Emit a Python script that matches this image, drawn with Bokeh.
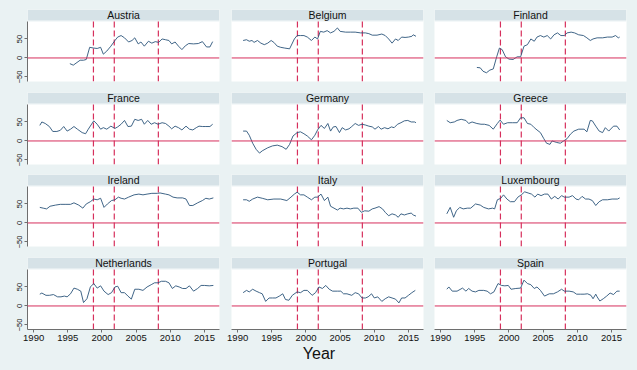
from bokeh.plotting import figure
from bokeh.layouts import column, row
from bokeh.models import FixedTicker, Range1d, Span
from bokeh.embed import file_html
from bokeh.resources import INLINE
from bokeh.core.properties import value

# ---------------- data ----------------
countries = ["Austria", "Belgium", "Finland", "France", "Germany", "Greece",
             "Ireland", "Italy", "Luxembourg", "Netherlands", "Portugal", "Spain"]

austria_year = [1995.3, 1995.8, 1996.8, 1997.3, 1997.7, 1998.2, 1998.8, 1999.3, 1999.8, 2000.2,
                2000.7, 2001.3, 2001.9, 2002.3, 2002.8, 2003.3, 2003.9, 2004.4, 2004.8, 2005.3,
                2005.7, 2006.2, 2006.8, 2007.3, 2007.8, 2008.3, 2008.8, 2009.3, 2009.8, 2010.2,
                2010.7, 2011.2, 2011.7, 2012.2, 2012.7, 2013.4, 2014.1, 2014.7, 2015.3, 2015.8, 2016.2]
austria_val = [-15, -19, -6, -6, -4, 28, 26, 25, 28, 10, 18, 31, 46, 55, 59, 53, 42, 46, 53, 37,
               42, 31, 44, 39, 43, 41, 50, 48, 46, 37, 42, 31, 22, 32, 38, 37, 38, 43, 29, 29, 43]

belgium_year = [1990.8, 1991.3, 1991.7, 1992.1, 1992.4, 1992.9, 1993.4, 1993.9, 1994.4, 1994.9,
                1995.3, 1995.8, 1996.3, 1996.9, 1997.6, 1998.3, 1998.7, 1999.2, 1999.7, 2000.2,
                2000.8, 2001.3, 2001.7, 2002.1, 2002.6, 2003.1, 2003.6, 2004.1, 2004.6, 2005.0,
                2005.8, 2006.5, 2007.2, 2008.0, 2008.7, 2009.2, 2009.7, 2010.4, 2011.1, 2011.6,
                2012.1, 2012.6, 2013.1, 2013.5, 2014.0, 2014.5, 2015.0, 2015.5, 2015.7, 2016.1]
belgium_val = [46, 48, 44, 46, 41, 46, 39, 35, 39, 46, 41, 31, 28, 26, 24, 50, 59, 59, 59, 55,
               46, 55, 50, 70, 68, 72, 66, 70, 79, 70, 68, 68, 68, 66, 66, 64, 60, 60, 63, 59,
               50, 39, 50, 46, 55, 54, 55, 57, 61, 57]

finland_year = [1995.3, 1995.8, 1996.2, 1996.7, 1997.2, 1997.7, 1998.2, 1998.6, 1999.0, 1999.5,
                2000.0, 2000.6, 2001.2, 2001.7, 2002.2, 2002.7, 2003.2, 2003.7, 2004.1, 2004.6,
                2005.1, 2005.6, 2006.1, 2006.6, 2007.1, 2007.6, 2008.1, 2008.5, 2009.1, 2009.6,
                2010.2, 2010.9, 2011.4, 2011.9, 2012.3, 2012.9, 2013.7, 2014.4, 2015.1, 2015.6,
                2016.0, 2016.2]
finland_val = [-25, -26, -35, -39, -32, -29, 3, 26, 22, 3, -3, -4, 3, 3, 31, 35, 50, 44, 55, 59,
               55, 59, 50, 61, 66, 59, 59, 66, 68, 66, 61, 59, 53, 46, 50, 53, 53, 55, 55, 59,
               53, 55]

france_year = [1990.9, 1991.2, 1991.7, 1992.3, 1992.8, 1993.4, 1993.9, 1994.4, 1994.9, 1995.4,
               1995.9, 1996.4, 1997.1, 1997.6, 1998.0, 1998.8, 1999.3, 1999.8, 2000.2, 2000.7,
               2001.3, 2001.9, 2002.3, 2002.8, 2003.3, 2003.8, 2004.3, 2004.8, 2005.3, 2005.8,
               2006.2, 2006.7, 2007.2, 2007.7, 2008.2, 2008.8, 2009.3, 2009.8, 2010.2, 2010.7,
               2011.2, 2011.7, 2012.3, 2012.8, 2013.3, 2013.8, 2014.2, 2014.7, 2015.2, 2015.8, 2016.2]
france_val = [41, 50, 46, 38, 25, 25, 28, 38, 26, 31, 38, 31, 22, 19, 31, 53, 44, 31, 35, 31,
              39, 33, 37, 44, 54, 38, 39, 57, 54, 57, 44, 54, 44, 48, 44, 48, 46, 39, 32, 39,
              35, 29, 39, 31, 29, 35, 39, 38, 38, 38, 44]

germany_year = [1990.8, 1991.3, 1991.7, 1992.2, 1992.7, 1993.2, 1993.6, 1994.4, 1995.1, 1995.8,
                1996.5, 1997.1, 1997.6, 1998.1, 1998.7, 1999.2, 1999.7, 2000.2, 2000.8, 2001.3,
                2001.7, 2002.2, 2002.7, 2003.2, 2003.6, 2004.0, 2004.4, 2004.9, 2005.3, 2005.8,
                2006.3, 2006.7, 2007.2, 2007.7, 2008.2, 2008.7, 2009.2, 2009.7, 2010.1, 2010.6,
                2011.0, 2011.5, 2012.0, 2012.5, 2012.9, 2013.4, 2013.9, 2014.4, 2014.9, 2015.4,
                2015.9, 2016.1]
germany_val = [26, 26, 15, -6, -22, -32, -26, -18, -13, -11, -15, -22, -9, 13, 22, 24, 19, 13, 3, 15,
               29, 41, 33, 46, 26, 37, 38, 22, 35, 29, 32, 38, 46, 41, 44, 42, 39, 37, 31, 38,
               31, 35, 32, 37, 35, 44, 48, 53, 54, 50, 50, 48]

greece_year = [1990.9, 1991.4, 1992.0, 1992.4, 1993.0, 1993.7, 1994.1, 1994.6, 1995.3, 1995.9,
               1996.4, 1997.1, 1997.7, 1998.3, 1998.7, 1999.2, 1999.8, 2000.5, 2001.2, 2001.7,
               2002.2, 2002.7, 2003.2, 2003.7, 2004.1, 2004.6, 2005.1, 2005.5, 2006.0, 2006.3,
               2007.0, 2007.5, 2008.0, 2008.5, 2009.0, 2009.5, 2010.2, 2011.0, 2011.4, 2011.9,
               2012.2, 2012.7, 2013.2, 2013.7, 2014.1, 2014.6, 2015.3, 2015.8, 2016.2]
greece_val = [54, 48, 50, 54, 57, 54, 46, 50, 46, 44, 44, 41, 31, 46, 55, 44, 48, 48, 48, 61,
              61, 46, 44, 35, 29, 22, 6, -6, -9, 0, -4, -6, 0, 6, 18, 26, 31, 31, 24, 54,
              53, 39, 26, 22, 35, 26, 39, 39, 29]

ireland_year = [1990.9, 1991.4, 1991.9, 1992.4, 1993.2, 1993.9, 1994.6, 1995.4, 1995.9, 1996.6,
                1997.2, 1997.7, 1998.3, 1998.8, 1999.3, 1999.8, 2000.3, 2000.8, 2001.4, 2001.9,
                2002.4, 2002.8, 2003.3, 2003.9, 2004.7, 2005.4, 2006.0, 2006.6, 2007.3, 2008.1,
                2008.5, 2009.3, 2009.8, 2010.4, 2011.0, 2011.8, 2012.3, 2012.8, 2013.3, 2014.0,
                2014.7, 2015.2, 2015.7, 2016.3]
ireland_val = [41, 39, 37, 44, 47, 49, 49, 49, 53, 47, 39, 50, 56, 63, 61, 65, 41, 50, 59, 61,
               68, 65, 63, 68, 74, 76, 74, 76, 78, 78, 79, 76, 74, 68, 66, 66, 63, 46, 46, 53,
               59, 65, 63, 66]

italy_year = [1990.8, 1991.3, 1991.7, 1992.2, 1992.9, 1993.6, 1994.4, 1995.3, 1996.3, 1997.2,
              1997.8, 1998.3, 1998.7, 1999.2, 1999.7, 2000.2, 2000.8, 2001.3, 2001.7, 2002.2,
              2002.7, 2003.2, 2003.6, 2004.1, 2004.6, 2005.0, 2005.5, 2006.0, 2006.5, 2007.0,
              2007.6, 2008.1, 2008.6, 2009.2, 2009.7, 2010.1, 2010.7, 2011.2, 2011.6, 2012.1,
              2012.6, 2013.1, 2013.5, 2013.9, 2014.4, 2014.9, 2015.4, 2015.7, 2016.1]
italy_val = [61, 61, 57, 63, 68, 65, 61, 63, 63, 59, 68, 76, 81, 74, 74, 68, 61, 68, 68, 76,
             59, 68, 44, 39, 34, 39, 37, 39, 37, 39, 39, 28, 32, 31, 37, 39, 43, 37, 28, 19,
             24, 21, 15, 24, 21, 24, 26, 21, 18]

luxembourg_year = [1990.9, 1991.4, 1991.9, 1992.3, 1992.8, 1993.3, 1993.9, 1994.4, 1995.1, 1995.8,
                   1996.3, 1997.0, 1997.6, 1997.9, 1998.3, 1998.8, 1999.2, 1999.7, 2000.2, 2000.8,
                   2001.3, 2001.8, 2002.3, 2002.8, 2003.3, 2003.8, 2004.2, 2004.7, 2005.2, 2005.7,
                   2006.2, 2006.7, 2007.2, 2007.7, 2008.1, 2008.8, 2009.3, 2009.8, 2010.2, 2010.7,
                   2011.2, 2011.7, 2012.2, 2012.7, 2013.2, 2013.7, 2014.4, 2015.1, 2015.9, 2016.2]
luxembourg_val = [24, 41, 15, 32, 41, 37, 39, 39, 50, 47, 41, 37, 39, 37, 61, 65, 74, 63, 56, 56,
                  68, 74, 82, 79, 76, 68, 76, 72, 76, 76, 63, 70, 63, 72, 68, 68, 72, 63, 61, 70,
                  63, 63, 59, 46, 56, 61, 61, 63, 63, 66]

netherlands_year = [1990.9, 1991.2, 1991.8, 1992.3, 1992.9, 1993.5, 1994.0, 1994.5, 1994.9, 1995.4,
                    1995.9, 1996.4, 1996.9, 1997.3, 1997.8, 1998.3, 1998.8, 1999.3, 1999.8, 2000.3,
                    2000.9, 2001.4, 2001.9, 2002.3, 2002.8, 2003.3, 2003.8, 2004.3, 2004.8, 2005.4,
                    2006.0, 2006.6, 2007.2, 2007.7, 2008.2, 2008.7, 2009.3, 2009.8, 2010.3, 2010.8,
                    2011.3, 2011.8, 2012.3, 2012.8, 2013.4, 2014.0, 2014.5, 2015.0, 2015.7, 2016.3]
netherlands_val = [31, 34, 28, 28, 30, 24, 24, 26, 24, 32, 47, 44, 39, 9, 19, 50, 59, 47, 53, 39,
                   30, 35, 50, 52, 35, 35, 26, 18, 44, 44, 41, 50, 56, 61, 61, 65, 65, 61, 46, 53,
                   50, 46, 46, 53, 39, 46, 54, 54, 53, 54]

portugal_year = [1990.8, 1991.3, 1991.7, 1992.2, 1992.7, 1993.2, 1993.6, 1994.1, 1994.6, 1995.1,
                 1995.6, 1996.1, 1996.6, 1997.0, 1997.5, 1998.0, 1998.7, 1999.2, 1999.7, 2000.2,
                 2000.9, 2001.4, 2001.9, 2002.4, 2002.9, 2003.4, 2003.9, 2004.6, 2005.1, 2005.5,
                 2006.0, 2006.7, 2007.2, 2007.7, 2008.2, 2008.7, 2009.1, 2009.6, 2010.0, 2010.5,
                 2011.1, 2011.6, 2012.1, 2012.6, 2013.1, 2013.6, 2014.0, 2014.5, 2015.0, 2015.5, 2016.0]
portugal_val = [35, 41, 37, 44, 39, 35, 32, 12, 21, 21, 21, 26, 32, 17, 15, 28, 37, 35, 41, 41,
                28, 35, 50, 46, 54, 44, 39, 39, 39, 32, 32, 28, 35, 32, 21, 21, 24, 32, 21, 24,
                12, 19, 24, 21, 18, 8, 21, 21, 28, 35, 41]

spain_year = [1990.9, 1991.2, 1991.7, 1992.4, 1993.2, 1993.7, 1994.1, 1994.6, 1995.1, 1995.6,
              1996.3, 1996.8, 1997.3, 1997.8, 1998.4, 1998.9, 1999.4, 1999.9, 2000.3, 2001.0,
              2001.7, 2002.2, 2002.7, 2003.2, 2003.7, 2004.1, 2004.6, 2005.2, 2005.9, 2006.5,
              2007.1, 2007.7, 2008.1, 2008.8, 2009.4, 2009.9, 2010.5, 2011.0, 2011.5, 2012.0,
              2012.3, 2012.7, 2012.9, 2013.3, 2013.8, 2014.3, 2014.8, 2015.3, 2015.8, 2016.2]
spain_val = [44, 50, 39, 39, 47, 39, 46, 39, 37, 41, 41, 39, 32, 37, 59, 54, 53, 54, 44, 46,
             47, 68, 59, 56, 46, 50, 41, 26, 32, 32, 37, 44, 39, 39, 37, 31, 31, 31, 32, 28,
             19, 31, 24, 13, 19, 26, 34, 30, 39, 39]

event_years = [1998.75, 2001.8, 2008.25]
x_ticks = [1990, 1995, 2000, 2005, 2010, 2015]
y_ticks = [-50, 0, 50]

series = {
    "Austria": (austria_year, austria_val),
    "Belgium": (belgium_year, belgium_val),
    "Finland": (finland_year, finland_val),
    "France": (france_year, france_val),
    "Germany": (germany_year, germany_val),
    "Greece": (greece_year, greece_val),
    "Ireland": (ireland_year, ireland_val),
    "Italy": (italy_year, italy_val),
    "Luxembourg": (luxembourg_year, luxembourg_val),
    "Netherlands": (netherlands_year, netherlands_val),
    "Portugal": (portugal_year, portugal_val),
    "Spain": (spain_year, spain_val),
}

# ---------------- style / layout ----------------
BG = "#EAF2F3"
BAR = "#D6E2E7"
LINE = "#2A5479"
RED = "#D62F5C"
AXIS = "#6E6E6E"
FONT = value("Liberation Sans")

X_LO, X_HI = 1989.1, 2017.2
Y_LO, Y_HI = -62, 96
PLOT_PX, GAP_PX, TITLE_PX = 60, 1, 11
U = (Y_HI - Y_LO) / PLOT_PX
Y_GAP = Y_HI + GAP_PX * U
Y_TOP = Y_HI + (GAP_PX + TITLE_PX) * U
FRAME_W = 192
FRAME_H = PLOT_PX + GAP_PX + TITLE_PX

col_borders = [(27, 6), (6, 5), (6, 11)]
row_borders = [(9, 9), (2, 8), (2, 9), (2, 17)]


def make_panel(name, r, c):
    bl, br = col_borders[c]
    bt, bb = row_borders[r]
    p = figure(width=bl + FRAME_W + br, height=bt + FRAME_H + bb,
               x_range=Range1d(X_LO, X_HI), y_range=Range1d(Y_LO, Y_TOP),
               output_backend="svg", toolbar_location=None,
               x_axis_location="below" if r == 3 else None,
               y_axis_location="left" if c == 0 else None,
               min_border_left=bl, min_border_right=br,
               min_border_top=bt, min_border_bottom=bb,
               background_fill_color="white", border_fill_color=BG,
               outline_line_color=None)
    p.xgrid.visible = False
    p.ygrid.visible = False

    # title bar
    p.quad(left=[X_LO], right=[X_HI], bottom=[Y_HI], top=[Y_GAP],
           fill_color=BG, line_color=None)
    p.quad(left=[X_LO], right=[X_HI], bottom=[Y_GAP], top=[Y_TOP],
           fill_color=BAR, line_color=None)
    p.text(x=[(X_LO + X_HI) / 2], y=[(Y_GAP + Y_TOP) / 2], text=[name],
           text_align="center", text_baseline="middle", text_font=FONT,
           text_font_size="10.5px", text_color="#111111")

    # reference lines
    p.add_layout(Span(location=0, dimension="width", line_color=RED, line_width=1))
    p.segment(x0=event_years, y0=[Y_LO] * len(event_years),
              x1=event_years, y1=[Y_HI] * len(event_years),
              line_color=RED, line_width=1.2, line_dash="6 3")

    xs, ys = series[name]
    p.line(xs, ys, line_color=LINE, line_width=0.9)

    if c == 0:
        ax = p.yaxis[0]
        ax.ticker = FixedTicker(ticks=y_ticks)
        ax.bounds = (Y_LO, Y_HI)
        ax.major_label_orientation = "vertical"
        ax.minor_tick_line_color = None
        ax.major_tick_in = 0
        ax.major_tick_out = 3
        ax.major_label_standoff = 2
        ax.axis_line_color = AXIS
        ax.major_tick_line_color = AXIS
        ax.major_label_text_font = "Liberation Sans"
        ax.major_label_text_font_size = "7.5px"
        ax.major_label_text_color = "#111111"
    if r == 3:
        ax = p.xaxis[0]
        ax.ticker = FixedTicker(ticks=x_ticks)
        ax.minor_tick_line_color = None
        ax.major_tick_in = 0
        ax.major_tick_out = 3
        ax.major_label_standoff = 2
        ax.axis_line_color = AXIS
        ax.major_tick_line_color = AXIS
        ax.major_label_text_font = "Liberation Sans"
        ax.major_label_text_font_size = "9.5px"
        ax.major_label_text_color = "#111111"
    return p


rows = []
for r in range(4):
    figs = [make_panel(countries[r * 3 + c], r, c) for c in range(3)]
    rows.append(row(*figs, spacing=0))

total_w = sum(bl + FRAME_W + br for bl, br in col_borders)
total_h = sum(bt + FRAME_H + bb for bt, bb in row_borders)
yfig = figure(width=total_w, height=370 - total_h, x_range=Range1d(0, 1), y_range=Range1d(0, 1),
              output_backend="svg", toolbar_location=None,
              x_axis_location=None, y_axis_location=None, min_border=0,
              background_fill_color=BG, border_fill_color=BG, outline_line_color=None)
yfig.xgrid.visible = False
yfig.ygrid.visible = False
yfig.text(x=[0.5], y=[0.7], text=["Year"], text_align="center", text_baseline="middle",
          text_font=FONT, text_font_size="16px", text_color="#111111")

layout = column(*rows, yfig, spacing=0)

html = file_html(layout, INLINE)
html = html.replace("<body>", '<body style="background-color:#EAF2F3;">')
open("out.html", "w").write(html)
